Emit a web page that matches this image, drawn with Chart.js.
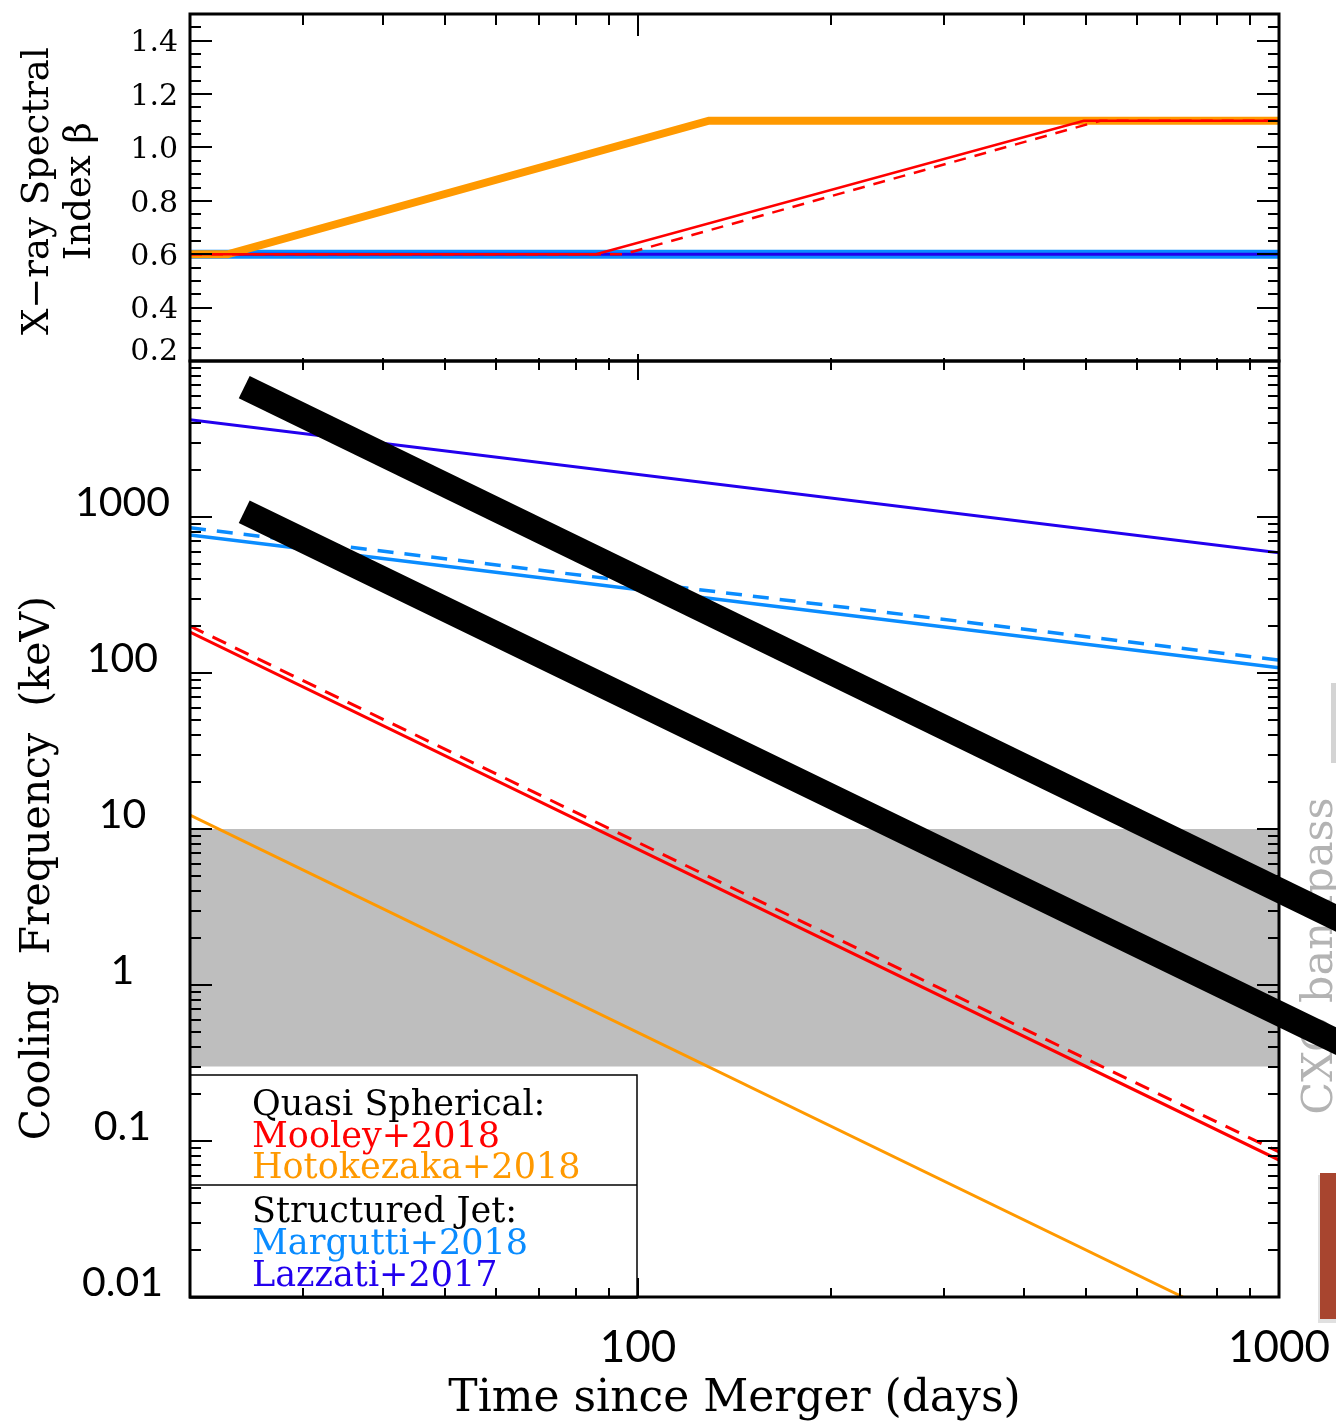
<!DOCTYPE html>
<html><head><meta charset="utf-8">
<script src="https://cdn.jsdelivr.net/npm/chart.js@4.4.1/dist/chart.umd.min.js"></script>
<style>
html,body{margin:0;padding:0;background:#fff;width:1336px;height:1423px;overflow:hidden}
canvas{position:absolute;left:0;top:0}
</style></head><body>
<canvas id="cBottom" width="1336" height="1423"></canvas>
<canvas id="cTop" width="1336" height="1423"></canvas>
<script>
// ---------------- data ----------------
const xTickValues = [100, 1000];
const xTickLabels = ['100', '1000'];
const betaTickValues = [0.2, 0.4, 0.6, 0.8, 1.0, 1.2, 1.4];
const betaTickLabels = ['0.2', '0.4', '0.6', '0.8', '1.0', '1.2', '1.4'];
const nuTickValues = [0.01, 0.1, 1, 10, 100, 1000];
const nuTickLabels = ['0.01', '0.1', '1', '10', '100', '1000'];

// top panel: X-ray spectral index beta vs time since merger (days)
const betaMooleyT = [20, 86, 496, 1000];
const betaMooley = [0.6, 0.6, 1.1, 1.1];
const betaMooleyDashT = [20, 95, 526, 1000];
const betaMooleyDash = [0.6, 0.6, 1.1, 1.1];
const betaHotokezakaT = [20, 22.9, 129, 1000];
const betaHotokezaka = [0.6, 0.6, 1.1, 1.1];
const betaMarguttiT = [20, 1000];
const betaMargutti = [0.6, 0.6];
const betaLazzatiT = [20, 1000];
const betaLazzati = [0.6, 0.6];

// bottom panel: cooling frequency (keV) vs time since merger (days)
const obsT = [24.3, 1300];
const obsUpper = [6800, 2.4];
const obsLower = [1080, 0.39];
const modelT = [20, 1000];
const nuLazzati = [4200, 590];
const nuMargutti = [767, 108];
const nuMarguttiDash = [853, 121];
const nuMooley = [183, 0.0755];
const nuMooleyDash = [200, 0.085];
const nuHotokezakaT = [20, 708];
const nuHotokezaka = [12.3, 0.01];
const bandT = [20, 1000];
const bandHigh = [10, 10];
const bandLow = [0.3, 0.3];

const legendGroups = [
  {title: 'Quasi Spherical:', items: [['Mooley+2018', '#ff0000'], ['Hotokezaka+2018', '#ff9900']]},
  {title: 'Structured Jet:', items: [['Margutti+2018', '#0a8cff'], ['Lazzati+2017', '#2200ee']]}
];

// ---------------- helpers ----------------
const pts = (xs, ys) => xs.map((x, i) => ({x: x, y: ys[i]}));
const RED = '#ff0000', ORANGE = '#ff9900', LBLUE = '#0a8cff', DBLUE = '#2200ee';

function logMinorTicks(min, max) {
  const out = [];
  for (let e = Math.floor(Math.log10(min)); e <= Math.ceil(Math.log10(max)); e++) {
    for (let m = 1; m <= 9; m++) {
      const v = m * Math.pow(10, e);
      if (v >= min * 0.999 && v <= max * 1.001) out.push({v: v, major: m === 1});
    }
  }
  return out;
}
function linTicks(min, max, step, majors) {
  const out = [];
  const n = Math.round((max - min) / step);
  for (let i = 0; i <= n; i++) {
    const v = +(min + i * step).toFixed(4);
    out.push({v: v, major: majors.some(m => Math.abs(m - v) < 1e-6)});
  }
  return out;
}
function drawFrame(chart, xt, yt, len) {
  const {ctx, chartArea: a} = chart;
  const xs = chart.scales.x, ys = chart.scales.y;
  ctx.save();
  ctx.strokeStyle = '#000';
  ctx.lineCap = 'butt';
  ctx.lineWidth = 2;
  ctx.beginPath();
  yt.forEach(t => {
    const p = Math.round(ys.getPixelForValue(t.v));
    const L = t.major ? len.yMaj : len.yMin;
    ctx.moveTo(a.left, p); ctx.lineTo(a.left + L, p);
    ctx.moveTo(a.right, p); ctx.lineTo(a.right - L, p);
  });
  xt.forEach(t => {
    const p = Math.round(xs.getPixelForValue(t.v));
    const Lt = t.major ? len.xTopMaj : len.xTopMin;
    const Lb = t.major ? len.xBotMaj : len.xBotMin;
    if (Lt > 0) { ctx.moveTo(p, a.top); ctx.lineTo(p, a.top + Lt); }
    if (Lb > 0) { ctx.moveTo(p, a.bottom); ctx.lineTo(p, a.bottom - Lb); }
  });
  ctx.stroke();
  ctx.lineWidth = 3;
  ctx.strokeRect(a.left, a.top, a.right - a.left, a.bottom - a.top);
  ctx.restore();
}
const xMinorTicks = logMinorTicks(20, 1000);
const noPad = s => { s.paddingLeft = 0; s.paddingRight = 0; s.paddingTop = 0; s.paddingBottom = 0; };

// ---------------- bottom panel ----------------
const bottomDecor = {
  id: 'bottomDecor',
  beforeDatasetsDraw(chart) {
    const ctx = chart.ctx;
    ctx.save();
    ctx.translate(1332, 956);
    ctx.rotate(-Math.PI / 2);
    ctx.fillStyle = '#b3b3b3';
    ctx.font = '43px "DejaVu Serif"';
    ctx.textAlign = 'center';
    ctx.textBaseline = 'alphabetic';
    ctx.fillText('CXO bandpass', 0, 0);
    ctx.restore();
    ctx.save();
    ctx.fillStyle = '#d4d4d4';
    ctx.fillRect(1331, 683, 5, 80);
    ctx.fillStyle = 'rgba(0,0,0,0.12)';
    ctx.fillRect(1318, 1175, 18, 148);
    ctx.fillStyle = '#a8452f';
    ctx.fillRect(1320, 1173, 16, 146);
    ctx.restore();
  },
  afterDraw(chart) {
    drawFrame(chart, xMinorTicks, logMinorTicks(0.01, 10000),
      {yMaj: 22, yMin: 11, xTopMaj: 19, xTopMin: 9, xBotMaj: 19, xBotMin: 9});
    const ctx = chart.ctx;
    ctx.save();
    ctx.strokeStyle = '#000';
    ctx.lineWidth = 1.5;
    ctx.strokeRect(190, 1075, 447, 223);
    ctx.beginPath(); ctx.moveTo(190, 1185); ctx.lineTo(637, 1185); ctx.stroke();
    ctx.font = '35px "DejaVu Serif"';
    ctx.textAlign = 'left';
    ctx.textBaseline = 'middle';
    const rowY = [[1106, 1138, 1169], [1213, 1245, 1277]];
    legendGroups.forEach((g, gi) => {
      ctx.fillStyle = '#000';
      ctx.fillText(g.title, 252, rowY[gi][0]);
      g.items.forEach((it, ii) => {
        ctx.fillStyle = it[1];
        ctx.fillText(it[0], 252, rowY[gi][ii + 1]);
      });
    });
    ctx.restore();
  }
};

const lineDs = (data, color, width, extra) => Object.assign({
  data: data, borderColor: color, backgroundColor: color, borderWidth: width,
  pointRadius: 0, fill: false, tension: 0
}, extra || {});

new Chart(document.getElementById('cBottom'), {
  type: 'line',
  data: {
    datasets: [
      lineDs(pts(obsT, obsUpper), '#000', 25, {clip: false}),
      lineDs(pts(obsT, obsLower), '#000', 25, {clip: false}),
      lineDs(pts(modelT, nuLazzati), DBLUE, 3),
      lineDs(pts(modelT, nuMargutti), LBLUE, 3.5),
      lineDs(pts(modelT, nuMarguttiDash), LBLUE, 3.5, {borderDash: [16, 11]}),
      lineDs(pts(modelT, nuMooley), RED, 3),
      lineDs(pts(modelT, nuMooleyDash), RED, 3, {borderDash: [15, 10]}),
      lineDs(pts(nuHotokezakaT, nuHotokezaka), ORANGE, 3),
      lineDs(pts(bandT, bandHigh), 'rgba(0,0,0,0)', 0),
      lineDs(pts(bandT, bandLow), 'rgba(0,0,0,0)', 0, {fill: '-1', backgroundColor: '#bebebe'})
    ]
  },
  options: {
    responsive: false, animation: false, devicePixelRatio: 1,
    layout: {padding: {top: 361, right: 57, bottom: 0, left: 0}},
    plugins: {legend: {display: false}, tooltip: {enabled: false}, filler: {drawTime: 'beforeDatasetsDraw'}},
    scales: {
      x: {
        type: 'logarithmic', min: 20, max: 1000, position: 'bottom',
        grid: {display: false, drawTicks: false}, border: {display: false},
        afterBuildTicks: s => { s.ticks = xTickValues.map(v => ({value: v})); },
        afterFit: s => { s.height = 126; noPad(s); },
        ticks: {
          autoSkip: false, maxRotation: 0, color: '#000', padding: 24,
          font: {family: 'Lato', size: 44},
          callback: (v) => { const i = xTickValues.indexOf(v); return i >= 0 ? xTickLabels[i] : ''; }
        },
        title: {display: true, text: 'Time since Merger (days)', color: '#000',
          font: {family: 'DejaVu Serif', size: 44}, padding: {top: 0, bottom: -3}}
      },
      y: {
        type: 'logarithmic', min: 0.01, max: 10000, position: 'left',
        grid: {display: false, drawTicks: false}, border: {display: false},
        afterBuildTicks: s => { s.ticks = nuTickValues.map(v => ({value: v})); },
        afterFit: s => { s.width = 190; noPad(s); },
        ticks: {
          autoSkip: false, color: '#000', padding: 20, crossAlign: 'center', labelOffset: -14,
          font: {family: 'Lato', size: 41},
          callback: (v) => { const i = nuTickValues.indexOf(v); return i >= 0 ? nuTickLabels[i] : ''; }
        },
        title: {display: true, text: 'Cooling  Frequency  (keV)      ', color: '#000',
          font: {family: 'DejaVu Serif', size: 41}, padding: {top: 14, bottom: 0}}
      }
    }
  },
  plugins: [bottomDecor]
});

// ---------------- top panel ----------------
const topDecor = {
  id: 'topDecor',
  afterDraw(chart) {
    drawFrame(chart, xMinorTicks, linTicks(0.2, 1.5, 0.05, betaTickValues),
      {yMaj: 22, yMin: 11, xTopMaj: 22, xTopMin: 11, xBotMaj: 7, xBotMin: 3});
  }
};

new Chart(document.getElementById('cTop'), {
  type: 'line',
  data: {
    datasets: [
      lineDs(pts(betaMooleyT, betaMooley), RED, 2.5),
      lineDs(pts(betaMooleyDashT, betaMooleyDash), RED, 2.5, {borderDash: [12, 9]}),
      lineDs(pts(betaHotokezakaT, betaHotokezaka), ORANGE, 8),
      lineDs(pts(betaLazzatiT, betaLazzati), DBLUE, 3),
      lineDs(pts(betaMarguttiT, betaMargutti), LBLUE, 9)
    ]
  },
  options: {
    responsive: false, animation: false, devicePixelRatio: 1,
    layout: {padding: {top: 14, right: 57, bottom: 1062, left: 0}},
    plugins: {legend: {display: false}, tooltip: {enabled: false}},
    scales: {
      x: {type: 'logarithmic', min: 20, max: 1000, display: false},
      y: {
        type: 'linear', min: 0.2, max: 1.5, position: 'left',
        grid: {display: false, drawTicks: false}, border: {display: false},
        afterBuildTicks: s => { s.ticks = betaTickValues.map(v => ({value: v})); },
        afterFit: s => { s.width = 190; noPad(s); },
        ticks: {
          autoSkip: false, color: '#000', padding: 12, crossAlign: 'near', labelOffset: 3,
          font: {family: 'DejaVu Serif', size: 30, lineHeight: 0.8},
          callback: (v) => {
            const i = betaTickValues.findIndex(b => Math.abs(b - v) < 1e-6);
            if (i < 0) return '';
            return i === 0 ? [betaTickLabels[i], ''] : betaTickLabels[i];
          }
        },
        title: {display: true, text: ['X\u2212ray Spectral\u2009', 'Index \u03b2\u2009'], color: '#000',
          font: {family: 'DejaVu Serif', size: 37, lineHeight: 1.15}, padding: {top: 17, bottom: 0}}
      }
    }
  },
  plugins: [topDecor]
});
</script>
</body></html>
